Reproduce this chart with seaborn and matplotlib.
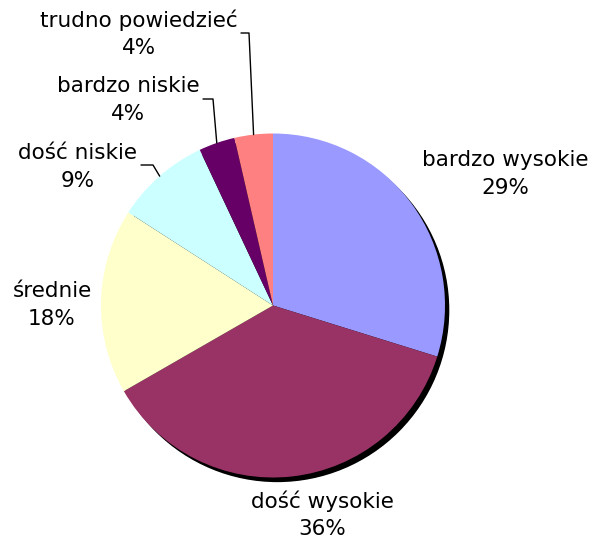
import numpy as np
import matplotlib
matplotlib.use("Agg")
import matplotlib.pyplot as plt
import seaborn as sns
from matplotlib.patches import Circle

# slice data (clockwise from 12 o'clock)
categories = ["bardzo wysokie", "dość wysokie", "średnie",
              "dość niskie", "bardzo niskie", "trudno powiedzieć"]
shares = [29.8, 36.9, 17.4, 8.9, 3.4, 3.6]
pct_labels = [29, 36, 18, 9, 4, 4]
colors = ["#9999FF", "#993366", "#FFFFCC", "#CCFFFF", "#660066", "#FF8080"]

sns.set_style("white")
plt.rcParams['font.family'] = ['DejaVu Sans']

W, H = 590, 541
cx, cy, R = 273, 305.5, 172  # pie center / radius in pixels

fig = plt.figure(figsize=(W / 100, H / 100), dpi=100)
ax = fig.add_axes([0, 0, 1, 1])

wedges, _ = ax.pie(shares, colors=colors, startangle=90, counterclock=False,
                   radius=1.0, wedgeprops=dict(linewidth=0))
for w in wedges:
    w.set_zorder(1)

# shadow behind the pie
ax.add_patch(Circle((0.025, -0.027), 1.0, color="black", zorder=0, lw=0))

ax.set_aspect("auto")
ax.set_xlim(-cx / R, (W - cx) / R)
ax.set_ylim(-(H - cy) / R, cy / R)
ax.axis("off")


def px(x, y):
    return (x - cx) / R, (cy - y) / R


# label centers (pixels) and leader line elbows for the small slices
label_pos = [(505, 174), (322, 515), (52, 305), (78, 167), (128, 100), (139, 34)]
leaders = {3: [(141, 165), (153, 165)],
           4: [(203, 99), (213, 99)],
           5: [(241, 33), (249, 33)]}

for i, (name, p) in enumerate(zip(categories, pct_labels)):
    x, y = px(*label_pos[i])
    ax.text(x, y, f"{name}\n{p}%", ha="center", va="center", color="black",
            fontsize=15.5, linespacing=1.45, zorder=3)
    if i in leaders:
        w = wedges[i]
        mid = np.deg2rad((w.theta1 + w.theta2) / 2)
        pts = [px(*q) for q in leaders[i]] + [(np.cos(mid), np.sin(mid))]
        xs, ys = zip(*pts)
        ax.plot(xs, ys, color="black", lw=1, zorder=2)

fig.savefig("out.png", dpi=100)
